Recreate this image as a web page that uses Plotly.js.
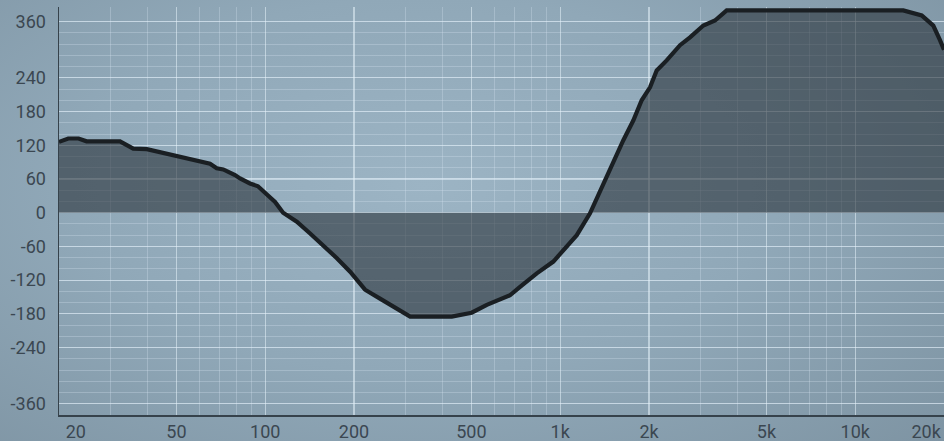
<!DOCTYPE html>
<html>
<head>
<meta charset="utf-8">
<script src="https://cdn.plot.ly/plotly-3.0.1.min.js"></script>
<style>
  html, body { margin: 0; padding: 0; width: 944px; height: 441px; overflow: hidden; }
  #chart {
    width: 944px; height: 441px;
    background: radial-gradient(ellipse 75% 85% at 45% 42%, #9cb4c4 0%, #90a8b8 50%, #7e94a3 100%);
  }
</style>
</head>
<body>
<div id="chart"></div>
<script>
// Frequency (Hz) and phase (degrees)
const freqHz = [20, 21.5, 23.3, 24.8, 32.2, 35.7, 39.7, 49.5, 59.2, 65, 68.5, 72.1, 79, 82.2, 88.8, 94.5,
  102, 108, 115, 128, 142, 157, 175, 194, 218, 245, 275, 310, 429, 501, 564, 676, 731, 833, 948,
  1025, 1138, 1262, 1322, 1419, 1514, 1637, 1769, 1889, 2016, 2124, 2296, 2548, 2754, 3057, 3348,
  3668, 3813, 14556, 16808, 18395, 19384, 20000];
const phaseDeg = [126, 132, 132, 127, 127, 114, 113, 102, 93, 87, 79, 77, 67, 61, 52, 47,
  31, 19, 0, -16, -37, -58, -81, -105, -137, -153, -169, -185, -185, -178, -164, -147, -132, -108, -87,
  -67, -40, -1, 22, 58, 93, 129, 164, 200, 223, 253, 271, 298, 312, 333, 342,
  360, 360, 360, 351, 333, 307, 290];

// Axis tick labels
const xTickFreq = [20, 50, 100, 200, 500, 1000, 2000, 5000, 10000, 20000];
const xTickText = ['20', '50', '100', '200', '500', '1k', '2k', '5k', '10k', '20k'];
const xMajorGrid = [50, 100, 200, 500, 1000, 2000, 5000, 10000];
const xMinorGrid = [30, 40, 60, 70, 80, 90, 300, 400, 600, 700, 800, 900,
  3000, 4000, 6000, 7000, 8000, 9000];
const yTickVals = [340, 240, 180, 120, 60, 0, -60, -120, -180, -240, -340];
const yTickText = ['360', '240', '180', '120', '60', '0', '-60', '-120', '-180', '-240', '-360'];
const yMinorGrid = [];
for (let v = -340; v <= 340; v += 20) yMinorGrid.push(v);

// edge labels are nudged inward so they stay inside the image
const xLabelPos = xTickFreq.slice();
xLabelPos[0] = xTickFreq[0] * 1.14;
xLabelPos[xLabelPos.length - 1] = xTickFreq[xTickFreq.length - 1] * 0.87;

const xRange = [Math.log10(20), Math.log10(20000)];
const tickFont = { family: 'Roboto, "Noto Sans", sans-serif', size: 18, color: '#3b4751' };

const traces = [
  {
    x: freqHz, y: phaseDeg, type: 'scatter', mode: 'lines',
    fill: 'tozeroy', fillcolor: 'rgba(38,47,54,0.58)',
    line: { width: 0 }, hoverinfo: 'skip', xaxis: 'x', yaxis: 'y'
  },
  {
    x: freqHz, y: phaseDeg, type: 'scatter', mode: 'lines',
    line: { color: '#1a1f23', width: 4.2 }, xaxis: 'x2', yaxis: 'y'
  }
];

const layout = {
  width: 944, height: 441,
  margin: { l: 59, r: 0, t: 6.6, b: 26, pad: 0 },
  paper_bgcolor: 'rgba(0,0,0,0)', plot_bgcolor: 'rgba(0,0,0,0)',
  showlegend: false,
  xaxis: {
    type: 'log', range: xRange, tickmode: 'array', tickvals: xLabelPos, ticktext: xTickText,
    showgrid: false, zeroline: false, ticks: '', tickfont: tickFont,
    showline: true, linecolor: '#36424b', linewidth: 1.5,
    minor: { tickmode: 'array', tickvals: xMinorGrid, showgrid: true, gridcolor: 'rgba(215,230,242,0.30)', gridwidth: 1, ticks: '' }
  },
  xaxis2: {
    type: 'log', range: xRange, overlaying: 'x', tickmode: 'array', tickvals: xMajorGrid,
    showgrid: true, gridcolor: 'rgba(230,242,250,0.55)', gridwidth: 1.2,
    showticklabels: false, ticks: '', zeroline: false, showline: false
  },
  yaxis: {
    range: [-360, 366], tickmode: 'array', tickvals: yTickVals, ticktext: yTickText,
    showgrid: true, gridcolor: 'rgba(228,240,250,0.55)', gridwidth: 1.2,
    zeroline: false, ticks: '', tickfont: tickFont, ticklabelstandoff: 8,
    showline: true, linecolor: '#36424b', linewidth: 1.5,
    minor: { tickmode: 'array', tickvals: yMinorGrid, showgrid: true, gridcolor: 'rgba(215,230,242,0.30)', gridwidth: 1, ticks: '' }
  }
};

Plotly.newPlot('chart', traces, layout, { staticPlot: true, displayModeBar: false });
</script>
</body>
</html>
